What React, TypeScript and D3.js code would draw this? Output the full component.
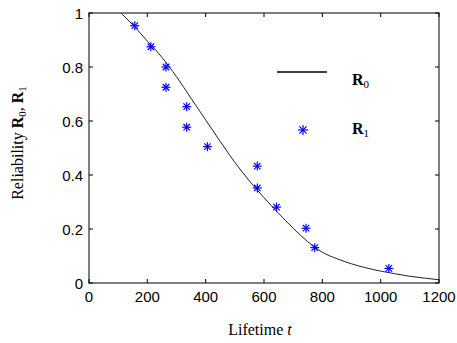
import React, { useRef, useEffect } from "react";
import * as d3 from "d3";

// Fitted reliability curve R0
const curveT = [110, 150, 200, 250, 300, 350, 400, 450, 500, 550, 600, 650, 700, 750, 800, 850, 900, 950, 1000, 1050, 1100, 1150, 1200];
const curveR = [1.0, 0.956, 0.896, 0.836, 0.764, 0.684, 0.604, 0.524, 0.447, 0.378, 0.316, 0.258, 0.203, 0.153, 0.114, 0.09, 0.071, 0.056, 0.044, 0.034, 0.025, 0.018, 0.012];

// Observed points R1
const obsT = [157, 212, 264, 264, 335, 335, 406, 577, 577, 643, 744, 774, 1028];
const obsR = [0.953, 0.875, 0.8, 0.725, 0.653, 0.577, 0.505, 0.433, 0.352, 0.281, 0.203, 0.131, 0.054];

const xTicks = [0, 200, 400, 600, 800, 1000, 1200];
const yTicks = [0, 0.2, 0.4, 0.6, 0.8, 1];

const W = 457;
const H = 343;

function drawStar(g: d3.Selection<any, unknown, null, undefined>, x: number, y: number, r: number) {
  const d = r * 0.72;
  const s = g.append("g").attr("transform", `translate(${x},${y})`)
    .attr("stroke", "#0000ff").attr("stroke-width", 1.2);
  s.append("line").attr("x1", -r).attr("x2", r).attr("y1", 0).attr("y2", 0);
  s.append("line").attr("x1", 0).attr("x2", 0).attr("y1", -r).attr("y2", r);
  s.append("line").attr("x1", -d).attr("x2", d).attr("y1", -d).attr("y2", d);
  s.append("line").attr("x1", -d).attr("x2", d).attr("y1", d).attr("y2", -d);
}

export default function App() {
  const svgRef = useRef<SVGSVGElement>(null);

  useEffect(() => {
    if (!svgRef.current) return;
    const svg = d3.select(svgRef.current);
    svg.selectAll("*").remove();

    const margin = { left: 89, right: 18, top: 13, bottom: 60 };
    const innerW = W - margin.left - margin.right;
    const innerH = H - margin.top - margin.bottom;

    const x = d3.scaleLinear().domain([0, 1200]).range([0, innerW]);
    const y = d3.scaleLinear().domain([0, 1]).range([innerH, 0]);

    const g = svg.append("g").attr("transform", `translate(${margin.left},${margin.top})`);

    // box
    g.append("rect")
      .attr("x", 0).attr("y", 0).attr("width", innerW).attr("height", innerH)
      .attr("fill", "none").attr("stroke", "#000").attr("stroke-width", 1);

    const tickFont = "Arial, 'Liberation Sans', sans-serif";
    const tl = 4;

    // x ticks (bottom and top, inward)
    xTicks.forEach(t => {
      g.append("line").attr("x1", x(t)).attr("x2", x(t)).attr("y1", innerH).attr("y2", innerH - tl).attr("stroke", "#000");
      g.append("line").attr("x1", x(t)).attr("x2", x(t)).attr("y1", 0).attr("y2", tl).attr("stroke", "#000");
      g.append("text")
        .attr("x", x(t)).attr("y", innerH + 19)
        .attr("text-anchor", "middle")
        .style("font-family", tickFont).style("font-size", "15px").style("fill", "#000")
        .text(String(t));
    });

    // y ticks (left and right, inward)
    yTicks.forEach(t => {
      g.append("line").attr("x1", 0).attr("x2", tl).attr("y1", y(t)).attr("y2", y(t)).attr("stroke", "#000");
      g.append("line").attr("x1", innerW).attr("x2", innerW - tl).attr("y1", y(t)).attr("y2", y(t)).attr("stroke", "#000");
      g.append("text")
        .attr("x", -6).attr("y", y(t) + 5.5)
        .attr("text-anchor", "end")
        .style("font-family", tickFont).style("font-size", "15px").style("fill", "#000")
        .text(String(t));
    });

    // R0 curve
    const line = d3.line<number>()
      .x((_, i) => x(curveT[i]))
      .y(d => y(d))
      .curve(d3.curveMonotoneX);
    g.append("path")
      .datum(curveR)
      .attr("fill", "none")
      .attr("stroke", "#222")
      .attr("stroke-width", 1)
      .attr("d", line);

    // R1 points
    obsR.forEach((r, i) => drawStar(g, x(obsT[i]), y(r), 4.5));

    // legend
    const serif = "'Times New Roman', 'Liberation Serif', serif";
    svg.append("line").attr("x1", 277).attr("x2", 327).attr("y1", 72).attr("y2", 72)
      .attr("stroke", "#000").attr("stroke-width", 1.5);
    drawStar(svg, 303, 130, 5);
    [["0", 85], ["1", 134]].forEach(([sub, by]) => {
      const t = svg.append("text").attr("x", 352).attr("y", by as number)
        .style("font-family", serif).style("font-size", "16px").style("fill", "#000");
      t.append("tspan").style("font-weight", "bold").text("R");
      t.append("tspan").attr("dy", 3).style("font-size", "11px").text(sub as string);
    });

    // x label
    const xl = svg.append("text")
      .attr("x", margin.left + innerW / 2 - 4).attr("y", 335)
      .attr("text-anchor", "middle")
      .style("font-family", serif).style("font-size", "16px").style("fill", "#000");
    xl.append("tspan").text("Lifetime ");
    xl.append("tspan").style("font-style", "italic").text("t");

    // y label
    const yl = svg.append("text")
      .attr("transform", `translate(23,${margin.top + innerH / 2 - 5}) rotate(-90)`)
      .attr("text-anchor", "middle")
      .style("font-family", serif).style("font-size", "16px").style("fill", "#000");
    yl.append("tspan").text("Reliability ");
    yl.append("tspan").style("font-weight", "bold").text("R");
    yl.append("tspan").attr("dy", 3).style("font-size", "11px").text("0");
    yl.append("tspan").attr("dy", -3).text(", ");
    yl.append("tspan").style("font-weight", "bold").text("R");
    yl.append("tspan").attr("dy", 3).style("font-size", "11px").text("1");
  }, []);

  return (
    <svg
      ref={svgRef}
      width={W}
      height={H}
      style={{ position: "absolute", left: 0, top: 0, background: "#fff" }}
    />
  );
}
